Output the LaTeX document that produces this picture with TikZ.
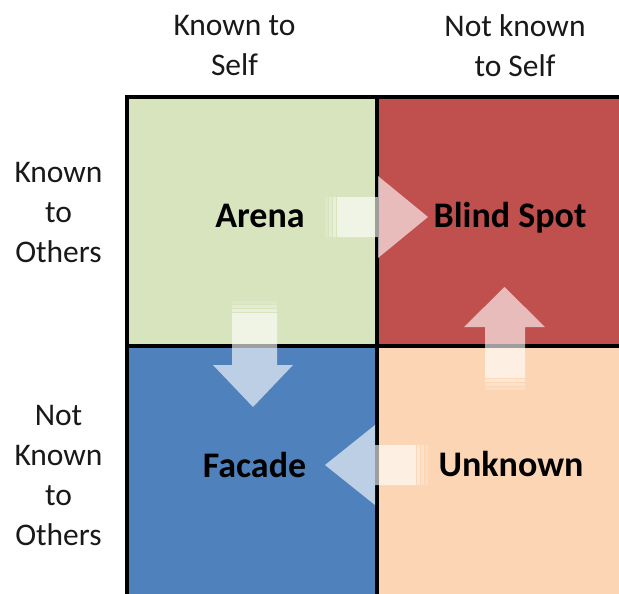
\documentclass[tikz,border=0pt]{standalone}
\usepackage{fontspec}
\setmainfont{Carlito}
\definecolor{qgreen}{RGB}{215,228,189}
\definecolor{qred}{RGB}{192,80,77}
\definecolor{qblue}{RGB}{79,129,189}
\definecolor{qpeach}{RGB}{252,213,181}
\definecolor{txt}{RGB}{25,25,25}
\tikzset{
  lbl/.style={align=center, inner sep=0pt, text=txt, font=\fontsize{31.5}{40}\selectfont},
  quad/.style={inner sep=0pt, text=black, font=\bfseries\fontsize{36}{40}\selectfont, anchor=base},
  grid/.style={line width=3.8pt, draw=black},
  blk/.style={fill=white, fill opacity=0.62, draw=none},
}
\begin{document}
\begin{tikzpicture}[x=1pt,y=-1pt]
\useasboundingbox (0,0) rectangle (619,594);
\fill[white] (0,0) rectangle (619,594);
\begin{scope}
\clip (0,0) rectangle (619,594);
% quadrants
\fill[qgreen] (127,97) rectangle (377,346);
\fill[qred] (377,97) rectangle (630,346);
\fill[qblue] (127,346) rectangle (377,610);
\fill[qpeach] (377,346) rectangle (630,610);
% grid lines
\draw[grid] (125.1,97) -- (630,97);
\draw[grid] (127,95.1) -- (127,610);
\draw[grid] (377,97) -- (377,610);
\draw[grid] (127,346) -- (630,346);
\end{scope}
% axis labels
\node[lbl] (ks) at (234.5,46) {Known to\\Self};
\node[lbl] (nks) at (515,46) {Not known\\to Self};
\node[lbl] (ko) at (58.5,213) {Known\\to\\Others};
\node[lbl] (nko) at (58.5,476) {Not\\Known\\to\\Others};
% quadrant labels
\node[quad] (arena) at (260,227) {Arena};
\node[quad] (blind) at (510,227) {Blind Spot};
\node[quad] (facade) at (254.5,477) {Facade};
\node[quad] (unknown) at (511,476) {Unknown};
% arrow: Arena -> Blind Spot
\fill[blk] (337,197) -- (378,197) -- (378,176) -- (428,217) -- (378,258) -- (378,237) -- (337,237) -- cycle;
\fill[white, fill opacity=0.45] (333,197) rectangle (336,237);
\fill[white, fill opacity=0.3] (329,197) rectangle (332,237);
\fill[white, fill opacity=0.18] (325,197) rectangle (328,237);
% arrow: Unknown -> Blind Spot (up)
\fill[blk] (485,378) -- (485,327) -- (464,327) -- (504.5,287) -- (545,327) -- (525,327) -- (525,378) -- cycle;
\fill[white, fill opacity=0.45] (485,379) rectangle (525,382);
\fill[white, fill opacity=0.3] (485,383) rectangle (525,386);
\fill[white, fill opacity=0.18] (485,387) rectangle (525,390);
% arrow: Arena -> Facade (down)
\fill[blk] (232,313) -- (277,313) -- (277,365) -- (293,365) -- (253,407) -- (213,365) -- (232,365) -- cycle;
\fill[white, fill opacity=0.45] (232,309) rectangle (277,312);
\fill[white, fill opacity=0.3] (232,305) rectangle (277,308);
\fill[white, fill opacity=0.18] (232,301) rectangle (277,304);
% arrow: Unknown -> Facade (left)
\fill[blk] (416,445) -- (375,445) -- (375,425) -- (325,465) -- (375,505) -- (375,485) -- (416,485) -- cycle;
\fill[white, fill opacity=0.45] (417,445) rectangle (420,485);
\fill[white, fill opacity=0.3] (421,445) rectangle (424,485);
\fill[white, fill opacity=0.18] (425,445) rectangle (428,485);
\end{tikzpicture}
\end{document}
